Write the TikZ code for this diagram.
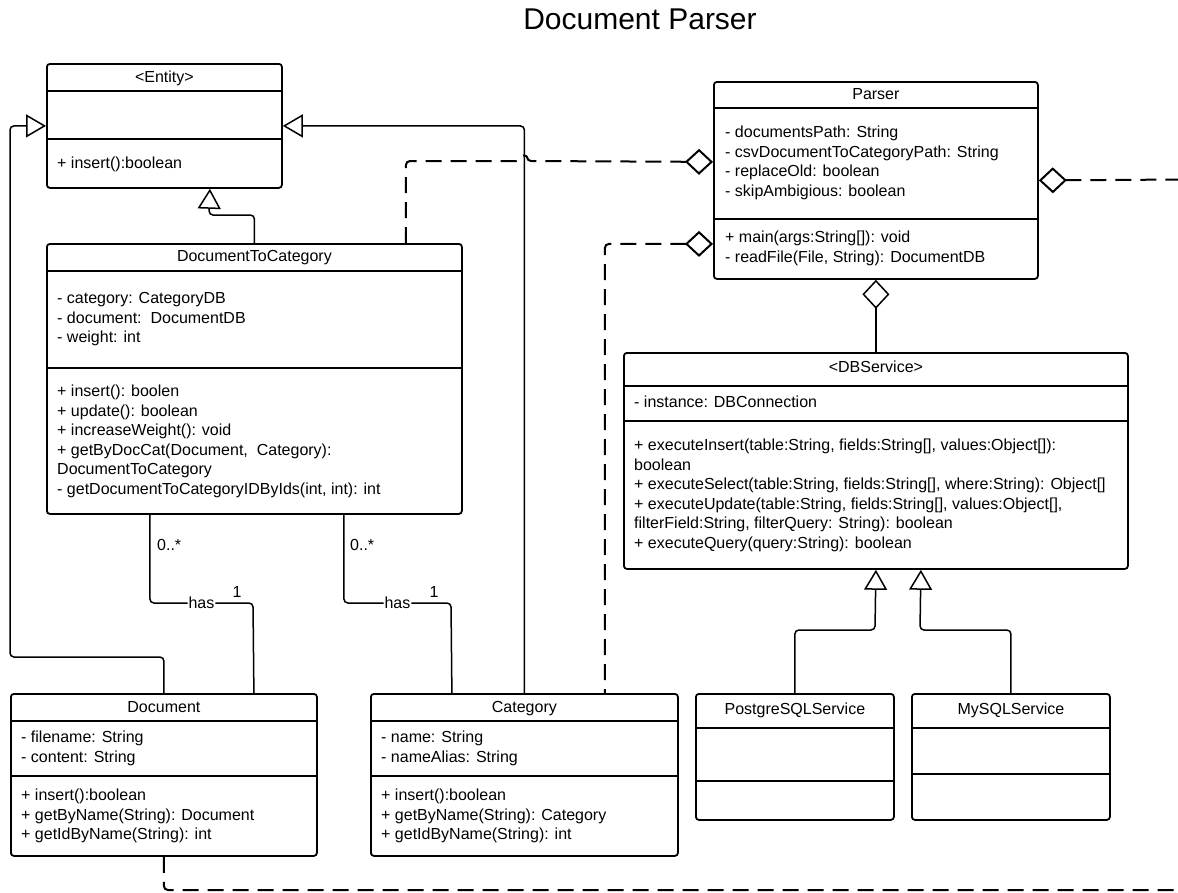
\documentclass[tikz,border=0pt]{standalone}
\usepackage{fontspec}
\setmainfont{Liberation Sans}
\usetikzlibrary{arrows.meta,calc}

% Class box: name, x, y, width, height, divider 1 y, divider 2 y, title baseline, title
\newcommand\umlbox[9]{%
  \node[cls, minimum width=#4pt, minimum height=#5pt] (#1) at (#2,#3) {};
  \draw[divider] (#1.west |- 0,#6) -- (#1.east |- 0,#6);
  \draw[divider] (#1.west |- 0,#7) -- (#1.east |- 0,#7);
  \node[hdr] (#1-title) at (#1.north |- 0,#8) {#9};
}
% Compartment text: name prefix, x, first baseline, list of lines
\newcommand\umllines[4]{%
  \foreach \s [count=\i] in {#4} {\node[txt] (#1-\i) at (#2,{#3+(\i-1)*19.5}) {\s};}
}

\begin{document}
\begin{tikzpicture}[x=1pt,y=-1pt,
  cls/.style={draw, line width=1.8pt, rounded corners=3pt, inner sep=0pt, anchor=north west},
  divider/.style={line width=1.8pt},
  hdr/.style={font=\fontsize{16}{19.5}\selectfont, inner sep=0pt, anchor=base},
  txt/.style={font=\fontsize{16}{19.5}\selectfont, inner sep=0pt, anchor=base west},
  lbl/.style={font=\fontsize{16}{19.5}\selectfont, inner sep=1pt, fill=white},
  conn/.style={line width=1.5pt, rounded corners=4pt},
  dsh/.style={line width=2pt, dash pattern=on 16pt off 9pt},
  gen/.style={conn, -{Triangle[open, length=20pt, width=23pt]}},
  agg/.style={conn, {Diamond[open, length=28pt, width=26pt]}-},
]
\useasboundingbox (0,0) rectangle (1178,892);

\node[font=\fontsize{30}{36}\selectfont, anchor=base] (title) at (640,29) {Document Parser};

% Entity classes
\umlbox{entity}{46}{63}{235}{124}{91}{139}{82.5}{<Entity>}
\umllines{entity-m}{57}{168.5}{+ insert():boolean}

\umlbox{dtc}{46}{243}{415}{270}{271}{368}{261}{DocumentToCategory}
\umllines{dtc-a}{57}{303.5}{- category: CategoryDB, - document:\ \ DocumentDB, - weight: int}
\umllines{dtc-m}{57}{396.5}{+ insert(): boolen, + update(): boolean, + increaseWeight(): void,
  {+ getByDocCat(Document,\ \ Category):}, DocumentToCategory,
  {- getDocumentToCategoryIDByIds(int, int): int}}

\umlbox{document}{10}{693}{306}{162}{721}{776}{712}{Document}
\umllines{document-a}{21}{742.5}{- filename: String, - content: String}
\umllines{document-m}{21}{800.5}{+ insert():boolean, + getByName(String): Document, + getIdByName(String): int}

\umlbox{category}{370}{693}{307}{162}{721}{776}{712}{Category}
\umllines{category-a}{381}{742.5}{- name: String, - nameAlias: String}
\umllines{category-m}{381}{800.5}{+ insert():boolean, + getByName(String): Category, + getIdByName(String): int}

% Parser and database services
\umlbox{parser}{713}{81}{324}{197}{108}{219}{99.5}{Parser}
\umllines{parser-a}{725}{137.5}{- documentsPath: String, - csvDocumentToCategoryPath: String,
  - replaceOld: boolean, - skipAmbigious: boolean}
\umllines{parser-m}{725}{242.5}{+ main(args:String[]): void, {- readFile(File, String): DocumentDB}}

\umlbox{dbservice}{623}{352}{504}{216}{386}{421}{372}{<DBService>}
\umllines{dbservice-a}{634}{407.5}{- instance: DBConnection}
\umllines{dbservice-m}{634}{450.5}{{+ executeInsert(table:String, fields:String[], values:Object[]):}, boolean,
  {+ executeSelect(table:String, fields:String[], where:String): Object[]},
  {+ executeUpdate(table:String, fields:String[], values:Object[],},
  {filterField:String, filterQuery: String): boolean},
  + executeQuery(query:String): boolean}

\umlbox{postgre}{695}{693}{198}{126}{728}{781}{714}{PostgreSQLService}
\umlbox{mysql}{911}{693}{198}{126}{728}{774}{714}{MySQLService}

% Loose ends running off the right edge
\coordinate (rEdge) at (1186,179.5);
\coordinate (bEdge) at (1186,890);

% Generalizations
\draw[gen] (document.north) |- (10,657) |- (entity.west);
\draw[gen] (category.north) |- (entity.east);
\draw[gen] (dtc.north) |- (209,215) -- ([xshift=45.5pt]entity.south);
\draw[gen] (postgre.north) |- (875,630) -- (dbservice.south);
\draw[gen] (mysql.north) |- (920,630) -- ([xshift=45pt]dbservice.south);

% Associations
\draw[conn] ([xshift=-104.5pt]dtc.south) |- node[lbl, pos=0.75] (has1) {has} (253,603)
  -- ([xshift=90pt]document.north);
\draw[conn] ([xshift=89.5pt]dtc.south) |- node[lbl, pos=0.75] (has2) {has} (451,603)
  -- ([xshift=-72.5pt]category.north);
\node[txt] (m1) at (157,550.5) {0..*};
\node[txt] (m2) at (350,550.5) {0..*};
\node[hdr] (o1) at (237,597.5) {1};
\node[hdr] (o2) at (434,597.5) {1};

% Aggregations
\draw[agg, dsh] ([yshift=18.5pt]parser.west) -- (527,161)
  .. controls (527,155) and (520,155) .. (520,161) -| ([xshift=151.5pt]dtc.north);
\draw[agg, dsh] ([yshift=-63.5pt]parser.west) -| ([xshift=80.5pt]category.north);
\draw[agg, dsh] (parser.east) -- (rEdge);
\draw[conn, {Diamond[open, length=29pt, width=27pt]}-] (parser.south) -- (dbservice.north);

% Dependency along the bottom
\draw[conn, dsh] (document.south) |- (bEdge);
\end{tikzpicture}
\end{document}
